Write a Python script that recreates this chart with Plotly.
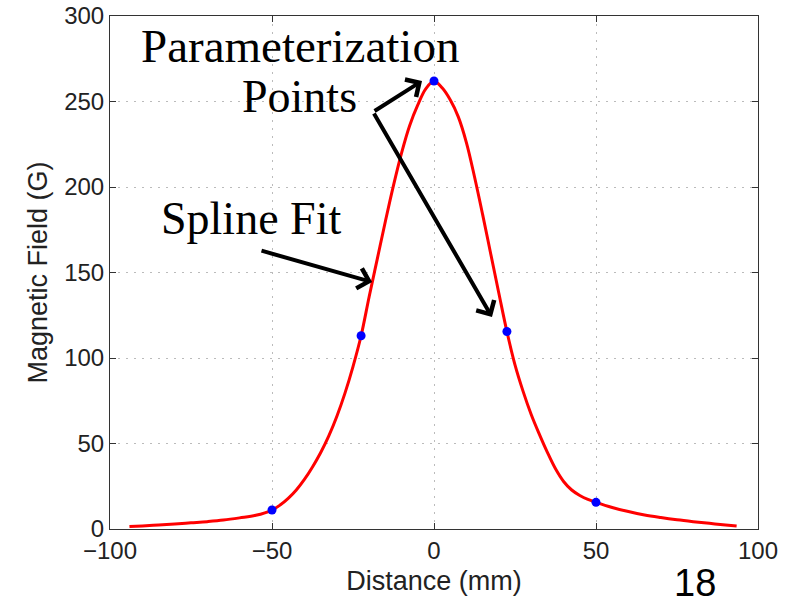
import plotly.graph_objects as go

# Spline fit curve
fit_x = [-94, -90, -85, -80, -75, -70, -65, -60, -55, -50, -47.5, -45, -42.5, -40, -37.5, -35,
         -32.5, -30, -27.5, -25, -22.5, -20, -17.5, -15, -12.5, -10, -7.5, -5, -2.5, 0,
         2.5, 5, 7.5, 10, 12.5, 15, 17.5, 20, 22.5, 25, 27.5, 30, 32.5, 35, 37.5, 40,
         42.5, 45, 47.5, 50, 55, 60, 65, 70, 75, 80, 85, 90, 93.4]
fit_y = [1.4, 1.8, 2.3, 2.9, 3.6, 4.3, 5.2, 6.5, 8.0, 11.1, 14.0, 17.9, 22.8, 29.0, 36.3, 44.6,
         54.3, 65.8, 79.3, 95, 113, 136, 158, 180, 201, 220, 236, 248, 257.5, 262,
         258, 251, 241, 226, 206, 184, 161, 138, 115.5, 96, 80.5, 67, 55.5, 44.8, 35.2, 27.8,
         22.8, 19.6, 17.3, 15.6, 12.6, 10.2, 8.2, 6.7, 5.4, 4.3, 3.3, 2.4, 1.8]

# Parameterization points
pts_x = [-50, -22.5, 0, 22.5, 50]
pts_y = [11.1, 113, 262, 115.5, 15.6]

x_ticks = [-100, -50, 0, 50, 100]
y_ticks = [0, 50, 100, 150, 200, 250, 300]

sans = "Liberation Sans, Arial, Helvetica, sans-serif"

fig = go.Figure()
fig.add_trace(go.Scatter(x=fit_x, y=fit_y, mode="lines",
                         line=dict(color="#ff0000", width=3, shape="spline", smoothing=1.0),
                         showlegend=False, hoverinfo="skip"))
fig.add_trace(go.Scatter(x=pts_x, y=pts_y, mode="markers",
                         marker=dict(color="#0000ff", size=9),
                         showlegend=False))

axis_common = dict(
    showline=True, linecolor="#333333", linewidth=1, mirror="ticks",
    ticks="inside", ticklen=6, tickcolor="#333333", tickwidth=1,
    showgrid=True, gridcolor="#bbbbbb", griddash="2px,6px", gridwidth=1,
    zeroline=False, automargin=False,
    tickfont=dict(family=sans, size=24, color="#222222"),
)

fig.update_xaxes(range=[-100, 100], tickvals=x_ticks,
                 title=dict(text="Distance (mm)", standoff=9,
                            font=dict(family=sans, size=27, color="#222222")),
                 **axis_common)
fig.update_yaxes(range=[0, 300], tickvals=y_ticks,
                 title=dict(text="Magnetic Field (G)", standoff=8,
                            font=dict(family=sans, size=27, color="#222222")),
                 **axis_common)

serif = dict(family="Liberation Serif, Times New Roman, serif", size=46, color="#000000")
serif_big = dict(family="Liberation Serif, Times New Roman, serif", size=47, color="#000000")

annotations = [
    dict(x=-41.4, y=282.5, xref="x", yref="y", text="Parameterization", showarrow=False,
         font=serif_big, xanchor="center", yanchor="middle"),
    dict(x=-41.4, y=252.8, xref="x", yref="y", text="Points", showarrow=False,
         font=serif, xanchor="center", yanchor="middle"),
    dict(x=-56.5, y=181.5, xref="x", yref="y", text="Spline Fit", showarrow=False,
         font=serif, xanchor="center", yanchor="middle"),
    # arrows
    dict(x=-3.7, y=262, ax=-18.8, ay=243.9, xref="x", yref="y", axref="x", ayref="y",
         text="", showarrow=True, arrowhead=4, arrowsize=1.0, arrowwidth=4, arrowcolor="#000000"),
    dict(x=17.9, y=124, ax=-18.8, ay=243.9, xref="x", yref="y", axref="x", ayref="y",
         text="", showarrow=True, arrowhead=4, arrowsize=1.0, arrowwidth=4, arrowcolor="#000000"),
    dict(x=-19.1, y=144.4, ax=-53.7, ay=163, xref="x", yref="y", axref="x", ayref="y",
         text="", showarrow=True, arrowhead=4, arrowsize=1.0, arrowwidth=4, arrowcolor="#000000"),
    dict(x=0.903, y=-0.106, xref="paper", yref="paper", text="18", showarrow=False,
         font=dict(family=sans, size=38, color="#000000"),
         xanchor="center", yanchor="middle"),
]

fig.update_layout(
    width=788, height=596,
    margin=dict(l=110, r=30, t=16, b=67),
    paper_bgcolor="white", plot_bgcolor="white",
    annotations=annotations,
    showlegend=False,
)

fig.write_html("out.html")
